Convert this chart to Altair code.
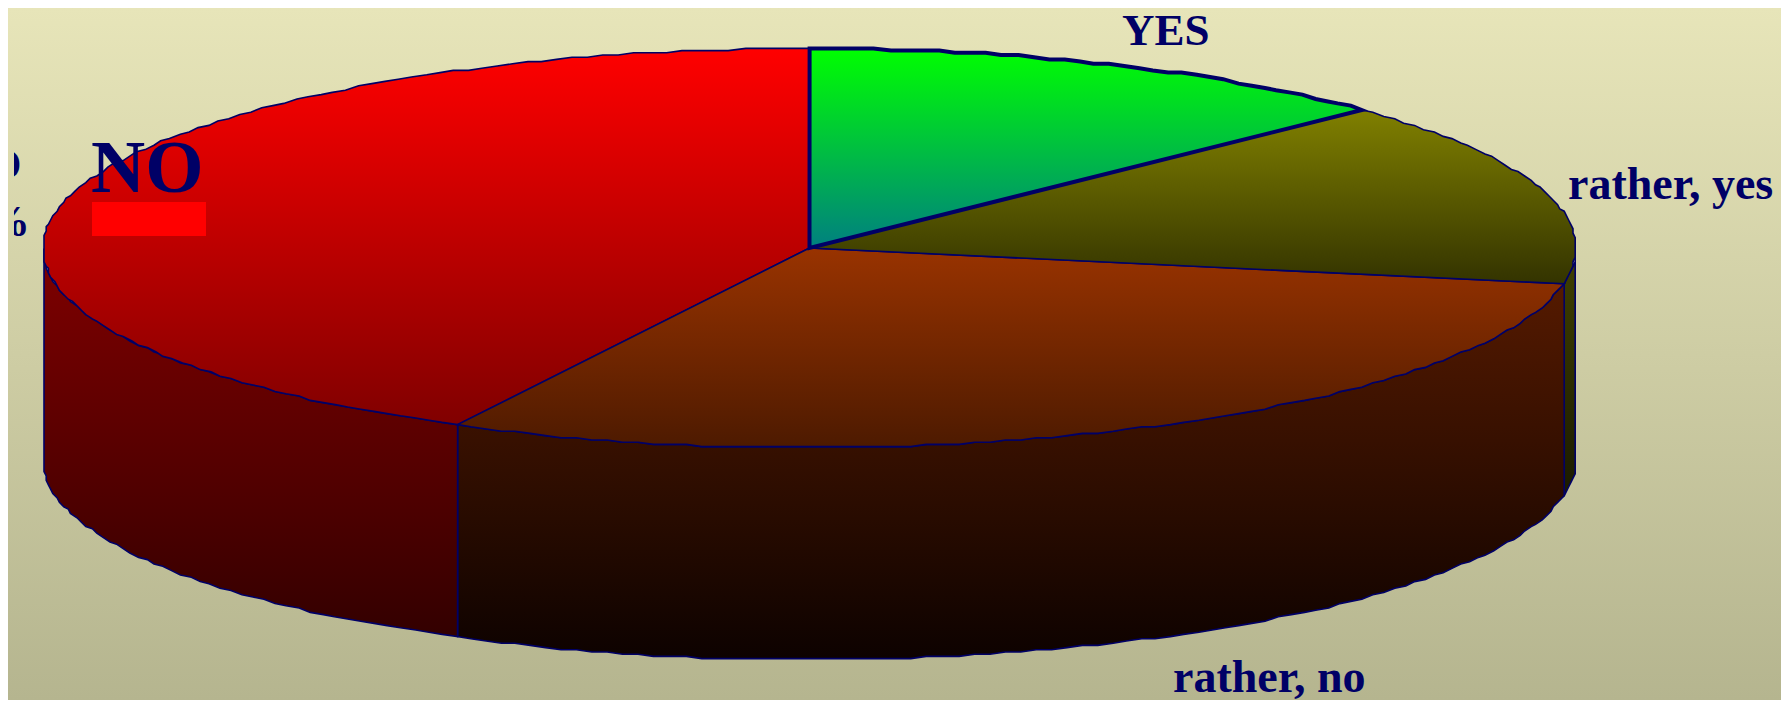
import math
import altair as alt
import pandas as pd

# ---- values ----
categories = ["YES", "rather, yes", "rather, no", "NO"]
shares = [12.8, 15.0, 29.8, 42.4]

top_colors = [("#00ff00", "#008080"), ("#808000", "#333300"), ("#993300", "#4d1a00"), ("#ff0000", "#800000")]
side_colors = [None, ("#404000", "#1a1a00"), ("#551a00", "#0d0200"), ("#800000", "#330000")]
outline_widths = [4.0, 1.6, 1.6, 1.6]

label_text = ["YES", "rather, yes", "rather, no", "NO", "%"]
label_x = [1122, 1568, 1173, 21.5, 30]
label_y = [45, 199, 692, 179, 236]
label_size = [45, 46, 46, 45, 45]
label_align = ["left", "left", "left", "right", "right"]

legend_text = ["NO"]
legend_x = [91]
legend_y = [192]
legend_box = [(92, 206, 202, 236)]

INK = "#000066"
PAGE = 8
X_END, Y_END = 1781, 700
CX, CY, RX, RY, DEPTH = 809.5, 248.0, 766.5, 199.5, 212.0
STEP, GRID = 1.2, 2.2

xs = alt.Scale(domain=[PAGE, X_END], range=[0, X_END - PAGE], zero=False, nice=False)
ys = alt.Scale(domain=[PAGE, Y_END], range=[0, Y_END - PAGE], zero=False, nice=False)


def rim(deg, dy=0.0):
    t = math.radians(deg)
    x = CX + RX * math.sin(t)
    y = CY - RY * math.cos(t)
    return (round(x / GRID) * GRID, round(y / GRID) * GRID + dy)


def arc(a0, a1, dy=0.0):
    n = max(1, int(abs(a1 - a0) // STEP))
    return [rim(a0 + (a1 - a0) * i / n, dy) for i in range(n + 1)]


def gradient(c0, c1):
    return alt.LinearGradient(
        gradient="linear", x1=0, x2=0, y1=0, y2=1,
        stops=[alt.GradientStop(color=c0, offset=0), alt.GradientStop(color=c1, offset=1)],
    )


def polygon(points, colors, width):
    df = pd.DataFrame({"x": [p[0] for p in points], "y": [p[1] for p in points], "o": range(len(points))})
    return alt.Chart(df).mark_line(
        interpolate="linear-closed", fill=gradient(*colors), stroke=INK,
        strokeWidth=width, strokeJoin="miter", clip=False,
    ).encode(
        x=alt.X("x:Q", scale=xs, axis=None),
        y=alt.Y("y:Q", scale=ys, axis=None),
        order=alt.Order("o:Q"),
    )


# slice boundaries in degrees, clockwise from the top of the pie
edges = [0.0]
for s in shares:
    edges.append(edges[-1] + s / sum(shares) * 360)

sides, tops = [], []
for i, (a0, a1) in enumerate(zip(edges[:-1], edges[1:])):
    # only the front half of the rim (90..270 degrees) shows a wall
    s0, s1 = max(a0, 90.0), min(a1, 270.0)
    if s1 > s0 and side_colors[i]:
        sides.append(polygon(arc(s0, s1) + arc(s1, s0, DEPTH), side_colors[i], 1.6))
    tops.append(polygon([(CX, CY)] + arc(a0, a1), top_colors[i], outline_widths[i]))

bg = gradient("#e7e5b9", "#b5b58f")
one = pd.DataFrame({"a": [0]})
background = alt.Chart(one).mark_rect(fill=bg, clip=False).encode(
    x=alt.value(0), x2=alt.value(X_END - PAGE), y=alt.value(0), y2=alt.value(Y_END - PAGE))
# the reference crops its left edge at x=14
crop = alt.Chart(one).mark_rect(fill=bg, clip=False).encode(
    x=alt.value(0), x2=alt.value(6), y=alt.value(0), y2=alt.value(Y_END - PAGE))

labels_df = pd.DataFrame({"t": label_text, "x": label_x, "y": label_y, "a": label_align, "s": label_size})
labels = []
for align in ["left", "right"]:
    labels.append(
        alt.Chart(labels_df[labels_df.a == align]).mark_text(
            font="Liberation Serif", fontWeight="bold", color=INK,
            align=align, baseline="alphabetic",
        ).encode(
            x=alt.X("x:Q", scale=xs, axis=None), y=alt.Y("y:Q", scale=ys, axis=None),
            text="t:N", size=alt.Size("s:Q", scale=None, legend=None),
        )
    )

legend_df = pd.DataFrame({"t": legend_text, "x": legend_x, "y": legend_y})
legend_label = alt.Chart(legend_df).mark_text(
    font="Liberation Serif", fontWeight="bold", fontSize=75, color=INK,
    align="left", baseline="alphabetic",
).encode(x=alt.X("x:Q", scale=xs, axis=None), y=alt.Y("y:Q", scale=ys, axis=None), text="t:N")

box_df = pd.DataFrame([{"x0": b[0], "x1": b[1], "y0": b[2], "y1": b[3]} for b in legend_box])
legend_swatch = alt.Chart(box_df).mark_rect(color="#ff0000").encode(
    x=alt.X("x0:Q", scale=xs, axis=None), x2="x1:Q",
    y=alt.Y("y0:Q", scale=ys, axis=None), y2="y1:Q",
)

# painted back to front: walls, then faces with the outlined YES slice last
chart = alt.layer(
    background, *sides, tops[3], tops[2], tops[1], tops[0], *labels, crop, legend_label, legend_swatch
).properties(
    width=X_END - PAGE, height=Y_END - PAGE, padding=0,
    autosize=alt.AutoSizeParams(type="none"),
).configure_view(stroke=None)

chart.save("out.html", embed_options={"renderer": "svg", "actions": False})
